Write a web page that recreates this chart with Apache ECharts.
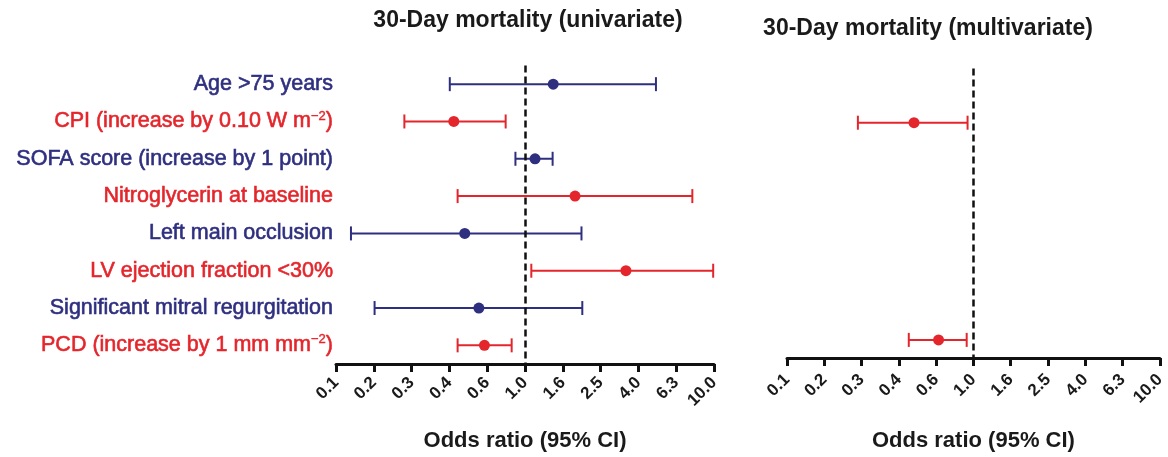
<!DOCTYPE html>
<html>
<head>
<meta charset="utf-8">
<style>
  html, body { margin: 0; padding: 0; background: #ffffff; }
  #chart { width: 1168px; height: 457px; }
</style>
<script src="https://cdn.jsdelivr.net/npm/echarts@6/dist/echarts.min.js"></script>
</head>
<body>
<div id="chart"></div>
<script>
// Predictors, top to bottom
const categories = [
  'Age >75 years',
  'CPI (increase by 0.10 W m⁻²)',
  'SOFA score (increase by 1 point)',
  'Nitroglycerin at baseline',
  'Left main occlusion',
  'LV ejection fraction <30%',
  'Significant mitral regurgitation',
  'PCD (increase by 1 mm mm⁻²)'
];

// Univariate odds ratios with 95% CI
const uniOR   = [1.41, 0.42, 1.13, 1.84, 0.48, 3.42, 0.57, 0.61];
const uniLow  = [0.40, 0.23, 0.89, 0.44, 0.12, 1.08, 0.16, 0.44];
const uniHigh = [4.93, 0.79, 1.40, 7.68, 1.99, 9.90, 2.01, 0.85];

// Multivariate odds ratios with 95% CI (only CPI and PCD retained)
const multiOR   = [null, 0.48, null, null, null, null, null, 0.65];
const multiLow  = [null, 0.24, null, null, null, null, null, 0.45];
const multiHigh = [null, 0.93, null, null, null, null, null, 0.92];

// Log-scale tick labels, one per 0.2 decade from 0.1 to 10
const tickLabels = ['0.1', '0.2', '0.3', '0.4', '0.6', '1.0', '1.6', '2.5', '4.0', '6.3', '10.0'];

const NAVY = '#2f2f80';
const RED = '#e4262c';
const rowColor = i => (i % 2 === 0 ? NAVY : RED);
const FONT = "'Liberation Sans', Arial, Helvetica, sans-serif";

const log10 = v => Math.log10(v);

// Whisker items: [log lower, row, log upper]
function ciData(low, high) {
  const out = [];
  low.forEach((lo, i) => {
    if (lo == null) return;
    out.push({ value: [log10(lo), i, log10(high[i])], itemStyle: { color: rowColor(i) } });
  });
  return out;
}
// Point estimates: [log OR, row]
function pointData(or) {
  const out = [];
  or.forEach((v, i) => {
    if (v == null) return;
    out.push({ value: [log10(v), i], itemStyle: { color: rowColor(i), opacity: 1 } });
  });
  return out;
}

// Whisker: horizontal line from lower to upper limit with end caps
function renderCI(params, api) {
  const row = api.value(1);
  const a = api.coord([api.value(0), row]);
  const b = api.coord([api.value(2), row]);
  const color = api.visual('color');
  const cap = 7;
  const style = { stroke: color, lineWidth: 2 };
  return {
    type: 'group',
    children: [
      { type: 'line', shape: { x1: a[0], y1: a[1], x2: b[0], y2: b[1] }, style },
      { type: 'line', shape: { x1: a[0], y1: a[1] - cap, x2: a[0], y2: a[1] + cap }, style },
      { type: 'line', shape: { x1: b[0], y1: b[1] - cap, x2: b[0], y2: b[1] + cap }, style }
    ]
  };
}

function xAxisFor(gridIndex, nameGap, labelMargin) {
  return {
    type: 'value',
    gridIndex,
    min: -1,
    max: 1,
    interval: 0.2,
    name: 'Odds ratio (95% CI)',
    nameLocation: 'middle',
    nameGap,
    nameTextStyle: { fontFamily: FONT, fontSize: 22, fontWeight: 'bold', color: '#1a1a1a' },
    axisLine: { show: true, onZero: false, lineStyle: { color: '#111', width: 3 } },
    axisTick: { show: true, length: 8, lineStyle: { color: '#111', width: 3 } },
    splitLine: { show: false },
    axisLabel: {
      rotate: 45,
      margin: labelMargin,
      fontFamily: FONT,
      fontSize: 17,
      fontWeight: 'bold',
      color: '#1a1a1a',
      formatter: v => tickLabels[Math.round((v + 1) / 0.2)]
    }
  };
}

// Category label with coloured text and a raised exponent
function labelFormatter(value, index) {
  const key = index % 2 === 0 ? 'n' : 'r';
  const parts = value.split('⁻²');
  if (parts.length === 1) return '{' + key + '|' + value + '}';
  return '{' + key + '|' + parts[0] + '}{' + key + 's|−2}{' + key + '|' + parts[1] + '}';
}

const labelStyle = color => ({
  color, fontFamily: FONT, fontSize: 21.5,
  textBorderColor: color, textBorderWidth: 0.6, lineHeight: 24
});
const supStyle = color => ({
  color, fontFamily: FONT, fontSize: 13,
  textBorderColor: color, textBorderWidth: 0.4,
  verticalAlign: 'top', lineHeight: 13
});

const dashed = {
  silent: true,
  symbol: 'none',
  label: { show: false },
  lineStyle: { color: '#111', width: 2.5, type: [7, 4] },
  data: [{ xAxis: 0 }]
};

const option = {
  animation: false,
  backgroundColor: '#ffffff',
  title: [
    {
      text: '30-Day mortality (univariate)',
      left: 523, top: 4, textAlign: 'center',
      textStyle: { fontFamily: FONT, fontSize: 23, fontWeight: 'bold', color: '#1a1a1a' }
    },
    {
      text: '30-Day mortality (multivariate)',
      left: 923, top: 12, textAlign: 'center',
      textStyle: { fontFamily: FONT, fontSize: 23, fontWeight: 'bold', color: '#1a1a1a' }
    }
  ],
  grid: [
    { left: 336, right: 454, top: 65.5, bottom: 91.5 },
    { left: 787, right: 3, top: 68.4, bottom: 96 }
  ],
  xAxis: [xAxisFor(0, 66, 16), xAxisFor(1, 72, 19)],
  yAxis: [
    {
      type: 'category',
      gridIndex: 0,
      inverse: true,
      data: categories,
      axisLine: { show: false },
      axisTick: { show: false },
      splitLine: { show: false },
      axisLabel: {
        margin: 3,
        formatter: labelFormatter,
        rich: {
          n: labelStyle(NAVY),
          r: labelStyle(RED),
          ns: supStyle(NAVY),
          rs: supStyle(RED)
        }
      }
    },
    {
      type: 'category',
      gridIndex: 1,
      inverse: true,
      data: categories,
      axisLine: { show: false },
      axisTick: { show: false },
      splitLine: { show: false },
      axisLabel: { show: false }
    }
  ],
  series: [
    {
      type: 'custom',
      xAxisIndex: 0, yAxisIndex: 0,
      renderItem: renderCI,
      data: ciData(uniLow, uniHigh),
      z: 2
    },
    {
      type: 'scatter',
      xAxisIndex: 0, yAxisIndex: 0,
      symbolSize: 11,
      data: pointData(uniOR),
      markLine: dashed,
      z: 3
    },
    {
      type: 'custom',
      xAxisIndex: 1, yAxisIndex: 1,
      renderItem: renderCI,
      data: ciData(multiLow, multiHigh),
      z: 2
    },
    {
      type: 'scatter',
      xAxisIndex: 1, yAxisIndex: 1,
      symbolSize: 11,
      data: pointData(multiOR),
      markLine: dashed,
      z: 3
    }
  ]
};

const chart = echarts.init(document.getElementById('chart'), null, { renderer: 'canvas' });
chart.setOption(option);
</script>
</body>
</html>
